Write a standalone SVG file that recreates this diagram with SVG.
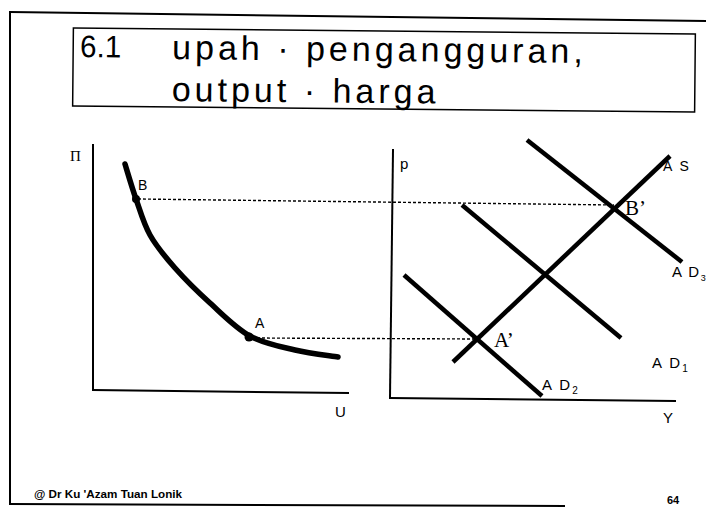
<svg xmlns="http://www.w3.org/2000/svg" width="706" height="513" viewBox="0 0 706 513">
<style>
.frame{stroke:#000;stroke-width:2;fill:none}
.axis{stroke:#000;stroke-width:2;fill:none;stroke-linecap:square}
.thick{stroke:#000;stroke-width:4.5;fill:none;stroke-linecap:butt}
.dash{stroke:#000;stroke-width:1.4;fill:none;stroke-dasharray:3,2}
.lbl{font-family:"Liberation Sans",Arial,sans-serif;fill:#000}
.ser{font-family:"Liberation Serif","Times New Roman",serif;fill:#000}
.title{font-family:"Liberation Sans",Arial,sans-serif;fill:#000}
</style>
<rect width="706" height="513" fill="#fff"/>
<g id="frame">
<line class="frame" x1="10" y1="12" x2="706" y2="21"/>
<line class="frame" x1="10" y1="11" x2="10" y2="505"/>
<line class="frame" x1="10" y1="504" x2="565" y2="506"/>
</g>
<g id="title" transform="rotate(0.55 384 70)">
<rect x="73" y="31" width="622" height="78" fill="none" stroke="#000" stroke-width="1.5"/>
<text class="title" x="80" y="60" font-size="31" textLength="41" lengthAdjust="spacingAndGlyphs">6.1</text>
<text class="title" x="172" y="61" font-size="34" letter-spacing="4">upah · pengangguran,</text>
<text class="title" x="172" y="103" font-size="34" letter-spacing="4">output · harga</text>
</g>
<g id="left-axes">
<line class="axis" x1="93" y1="145" x2="93" y2="390"/>
<line class="axis" x1="93" y1="390" x2="348" y2="393"/>
<text class="ser" x="70" y="161" font-size="15">Π</text>
<text class="lbl" x="335" y="417" font-size="15">U</text>
</g>
<g id="phillips-curve">
<path d="M125,164 C126.8,169.8 131.8,187.2 136,199 C140.2,210.8 143.5,223.5 150,235 C156.5,246.5 165,256.7 175,268 C185,279.3 197.5,291.7 210,303 C222.5,314.3 235.8,328.2 250,336 C264.2,343.8 280.3,346.5 295,350 C309.7,353.5 330.8,355.8 338,357" stroke="#000" stroke-width="5.5" fill="none" stroke-linecap="round" stroke-linejoin="round"/>
</g>
<g id="point-B">
<circle cx="136" cy="199" r="4"/>
<text class="lbl" x="138" y="190" font-size="14">B</text>
</g>
<g id="point-A">
<circle cx="249" cy="337" r="4.5"/>
<text class="lbl" x="255" y="328" font-size="14">A</text>
</g>
<g id="right-axes">
<line class="axis" x1="393" y1="150" x2="390" y2="398"/>
<line class="axis" x1="390" y1="398" x2="675" y2="401"/>
<text class="lbl" x="400" y="169" font-size="15">p</text>
<text class="lbl" x="663" y="423" font-size="15">Y</text>
</g>
<g id="connectors">
<line class="dash" x1="138" y1="199" x2="614" y2="205"/>
<line class="dash" x1="252" y1="338" x2="479" y2="339"/>
</g>
<g id="AS">
<line class="thick" x1="453" y1="362" x2="670" y2="156" stroke-width="5"/>
<text class="lbl" x="663" y="171" font-size="14" letter-spacing="2">A S</text>
</g>
<g id="AD3">
<line class="thick" x1="527" y1="140" x2="682" y2="262"/>
<text class="lbl" x="672" y="277" font-size="15" letter-spacing="1.5">A D<tspan font-size="9" dy="4" letter-spacing="0">3</tspan></text>
</g>
<g id="AD-mid">
<line class="thick" x1="462" y1="205" x2="621" y2="338"/>
</g>
<g id="AD2">
<line class="thick" x1="404" y1="275" x2="542" y2="396"/>
<text class="lbl" x="542" y="390" font-size="15" letter-spacing="2">A D<tspan font-size="10" dy="4">2</tspan></text>
</g>
<g id="AD1">
<text class="lbl" x="652" y="368" font-size="15" letter-spacing="2">A D<tspan font-size="10" dy="4">1</tspan></text>
</g>
<g id="point-B2">
<text class="ser" x="625" y="215" font-size="21">B’</text>
</g>
<g id="point-A2">
<text class="ser" x="494" y="347" font-size="21">A’</text>
</g>
<g id="footer">
<text class="lbl" x="34" y="498" font-size="10" font-weight="bold" textLength="148" lengthAdjust="spacingAndGlyphs">@ Dr Ku 'Azam Tuan Lonik</text>
<text class="lbl" x="667" y="504" font-size="11" font-weight="bold">64</text>
</g>
</svg>
